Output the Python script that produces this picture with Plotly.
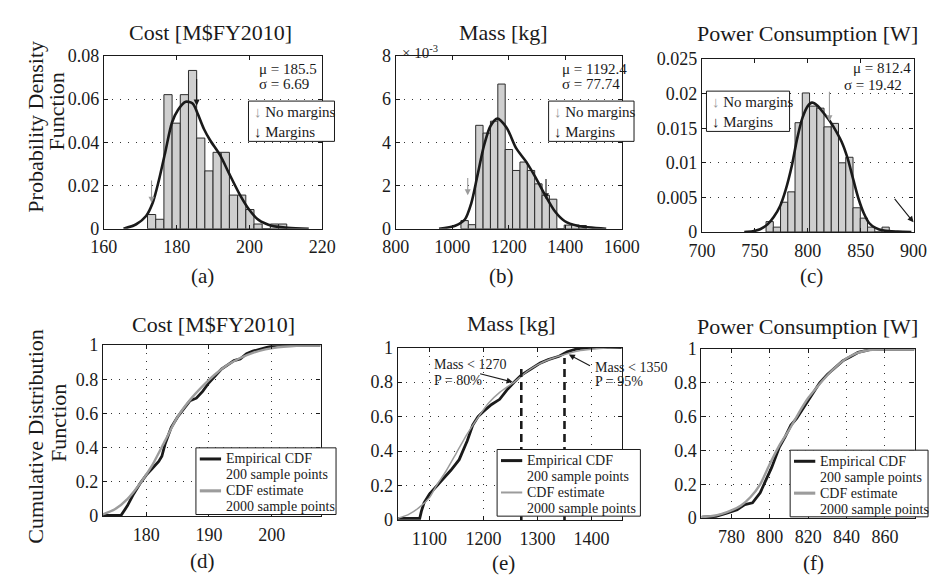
import plotly.graph_objects as go

W, H = 947, 587
SERIF = "Liberation Serif"
INK = "#1a1a1a"
GRAY = "#9c9c9c"
BAR_FILL = "#cfcfcf"

# ---------------- PDF panels: histogram densities (200 samples) ----------------
cost_bin_start = 172.0
cost_bin_width = 2.25
cost_density = [0.0066, 0.0044, 0.0621, 0.0489, 0.0621, 0.0733, 0.0420, 0.0268, 0.0354,
                0.0354, 0.0156, 0.0156, 0.0089, 0.0022, 0.0, 0.0022, 0.0022]

mass_bin_start = 1031.0
mass_bin_width = 26.1
mass_density = [0.00038, 0.00019, 0.00479, 0.00443, 0.00498, 0.00670, 0.00367, 0.00270,
                0.00309, 0.00270, 0.00208, 0.00155, 0.00137, 0.0, 0.00017, 0.00017, 0.00015]

power_bin_start = 760.6
power_bin_width = 6.85
power_density = [0.0015, 0.0007, 0.0043, 0.0058, 0.0158, 0.0201, 0.0182, 0.0179, 0.0152,
                 0.0157, 0.0100, 0.0108, 0.0035, 0.0020, 0.0007, 0.0, 0.0007]

# Kernel density estimates (2000 sample points)
cost_kde_x = [165.4, 168.9, 171.6, 173.4, 175.1, 176.9, 178.7, 180.4, 182.5, 184.4, 185.7,
              187.5, 189.2, 191.9, 194.5, 197.2, 199.9, 202.5, 206.1, 210.5, 216.3]
cost_kde_y = [0.0, 0.0021, 0.0059, 0.0119, 0.0223, 0.0357, 0.0491, 0.0551, 0.0588, 0.0580,
              0.0536, 0.0462, 0.0410, 0.0342, 0.0253, 0.0163, 0.0089, 0.0041, 0.0014, 0.0005, 0.0]

mass_kde_x = [953.6, 1010.6, 1044.8, 1067.5, 1090.2, 1113.0, 1135.6, 1160.0, 1192.6, 1226.8,
              1260.9, 1295.0, 1329.2, 1363.3, 1397.5, 1443.0, 1545.0]
mass_kde_y = [0.0, 0.00014, 0.00043, 0.00118, 0.00252, 0.00387, 0.00476, 0.00510, 0.00468,
              0.00372, 0.00312, 0.00238, 0.00155, 0.00081, 0.00036, 0.00014, 0.0]

power_kde_x = [740, 748, 755, 762, 768, 774, 779, 785, 790, 795, 800, 804, 809, 815, 821,
               827, 833, 838, 843, 848, 853, 858, 864, 872, 885, 898]
power_kde_y = [0.0, 0.0001, 0.0004, 0.0011, 0.0022, 0.0038, 0.0060, 0.0096, 0.0135, 0.0165,
               0.0182, 0.0187, 0.0183, 0.0172, 0.0160, 0.0145, 0.0127, 0.0105, 0.0076, 0.0048,
               0.0027, 0.0013, 0.0006, 0.0002, 0.00005, 0.0]

# Stats printed in each PDF panel
cost_mu, cost_sigma = "185.5", "6.69"
mass_mu, mass_sigma = "1192.4", "77.74"
power_mu, power_sigma = "812.4", "19.42"

# "No margins" (gray) and "Margins" (black) markers: (x, y_tail, y_head)
cost_nomargin = (173.1, 0.023, 0.012)
cost_margin = (185.5, 0.070, 0.057)
mass_nomargin = (1055.0, 0.00242, 0.00155)
mass_margin = (1332.0, 0.00237, 0.00137)
power_nomargin = (820.5, 0.0205, 0.0160)
power_margin_tail = (881.0, 0.0050)
power_margin_head = (900.0, 0.0014)

# ---------------- CDF panels ----------------
cost_cdf_emp_x = [173.1, 176.0, 177.0, 178.0, 179.0, 180.0, 181.0, 182.0, 182.5, 183.0, 183.5,
                  184.0, 185.0, 186.0, 187.0, 188.0, 189.0, 190.0, 191.0, 192.0, 193.0, 194.0,
                  195.0, 196.0, 197.0, 198.0, 200.0, 201.0, 207.8]
cost_cdf_emp_y = [0.005, 0.005, 0.06, 0.13, 0.19, 0.24, 0.28, 0.32, 0.35, 0.42, 0.47, 0.52,
                  0.58, 0.63, 0.675, 0.69, 0.73, 0.78, 0.82, 0.86, 0.885, 0.91, 0.92, 0.95,
                  0.965, 0.975, 0.995, 1.0, 1.0]
cost_cdf_est_x = [173.1, 175, 177, 179, 181, 183, 185, 187, 189, 191, 193, 195, 197, 199, 201,
                  203, 205, 207.8]
cost_cdf_est_y = [0.01, 0.04, 0.10, 0.19, 0.30, 0.44, 0.58, 0.68, 0.76, 0.83, 0.885, 0.925,
                  0.955, 0.975, 0.987, 0.994, 0.998, 1.0]

mass_cdf_emp_x = [1041, 1082, 1085, 1090, 1100, 1120, 1140, 1155, 1170, 1180, 1190, 1200, 1215,
                  1230, 1245, 1257, 1270, 1290, 1305, 1320, 1340, 1355, 1370, 1380, 1400, 1456]
mass_cdf_emp_y = [0.01, 0.01, 0.05, 0.10, 0.15, 0.22, 0.29, 0.35, 0.46, 0.55, 0.60, 0.63,
                  0.67, 0.70, 0.76, 0.80, 0.84, 0.88, 0.91, 0.93, 0.95, 0.975, 0.99, 0.995,
                  1.0, 1.0]
mass_cdf_est_x = [1041, 1060, 1080, 1100, 1113, 1130, 1150, 1170, 1191, 1210, 1230, 1257, 1280,
                  1300, 1325, 1350, 1375, 1400, 1430, 1456]
mass_cdf_est_y = [0.01, 0.03, 0.07, 0.13, 0.20, 0.28, 0.39, 0.50, 0.60, 0.68, 0.74, 0.80, 0.86,
                  0.90, 0.935, 0.96, 0.98, 0.99, 0.997, 1.0]

power_cdf_emp_x = [764.4, 772, 778, 783, 787, 791, 795, 798, 801, 805, 808, 811, 814, 818, 822,
                   826, 830, 834, 838, 842, 846, 850, 853, 875.4]
power_cdf_emp_y = [0.005, 0.01, 0.03, 0.05, 0.08, 0.09, 0.15, 0.22, 0.30, 0.42, 0.48, 0.55,
                   0.59, 0.66, 0.73, 0.80, 0.85, 0.89, 0.93, 0.955, 0.98, 0.99, 1.0, 1.0]
power_cdf_est_x = [764.4, 770, 775, 780, 785, 790, 795, 800, 805, 810, 815, 820, 825, 830, 835,
                   840, 845, 850, 855, 860, 875.4]
power_cdf_est_y = [0.005, 0.012, 0.025, 0.045, 0.075, 0.125, 0.20, 0.32, 0.43, 0.52, 0.62, 0.71,
                   0.78, 0.845, 0.90, 0.945, 0.975, 0.99, 0.997, 1.0, 1.0]

# Mass thresholds marked on the CDF
mass_p80_value, mass_p80_level = 1270, 0.876
mass_p95_value, mass_p95_level = 1350, 0.94

# ---------------- axis definitions ----------------
titles_top = ["Cost [M$FY2010]", "Mass [kg]", "Power Consumption [W]"]
titles_bottom = ["Cost [M$FY2010]", "Mass [kg]", "Power Consumption [W]"]
panel_tags = ["(a)", "(b)", "(c)", "(d)", "(e)", "(f)"]

pdf_x_ticks = [[160, 180, 200, 220], [800, 1000, 1200, 1400, 1600], [700, 750, 800, 850, 900]]
pdf_y_ticks = [[0, 0.02, 0.04, 0.06, 0.08], [0, 0.002, 0.004, 0.006, 0.008],
               [0, 0.005, 0.01, 0.015, 0.02, 0.025]]
pdf_y_text = [["0", "0.02", "0.04", "0.06", "0.08"], ["0", "2", "4", "6", "8"],
              ["0", "0.005", "0.01", "0.015", "0.02", "0.025"]]
cdf_x_ticks = [[180, 190, 200], [1100, 1200, 1300, 1400], [780, 800, 820, 840, 860]]
cdf_y_ticks = [0, 0.2, 0.4, 0.6, 0.8, 1]
cdf_y_text = ["0", "0.2", "0.4", "0.6", "0.8", "1"]

# pixel boxes of the six plot areas: (left, right, top, bottom)
boxes = [(93, 319, 47.6, 226.5), (395, 629, 47.6, 226.5), (712, 931, 50.8, 229.8),
         (92, 317.3, 347, 524), (397, 629, 349.5, 528), (711.5, 932, 351, 526)]
x_ranges = [[160, 220], [800, 1600], [700, 900], [173.1, 207.8], [1041, 1456], [764.4, 875.4]]
y_ranges = [[0, 0.08], [0, 0.008], [0, 0.025], [0, 1], [0, 1], [0, 1]]

fig = go.Figure()
layout = {}
for i, (l, r, t, b) in enumerate(boxes):
    n = "" if i == 0 else str(i + 1)
    top_row = i < 3
    xt = pdf_x_ticks[i] if top_row else cdf_x_ticks[i - 3]
    yt = pdf_y_ticks[i] if top_row else cdf_y_ticks
    ytx = pdf_y_text[i] if top_row else cdf_y_text
    common = dict(showline=True, linecolor=INK, linewidth=1.2, mirror="ticks",
                  ticks="inside", ticklen=4, tickcolor=INK, zeroline=False,
                  tickfont=dict(family=SERIF, size=18, color=INK),
                  gridcolor="#333333", griddash="1px,7px", gridwidth=1)
    layout["xaxis" + n] = dict(common, domain=[l / W, r / W], range=x_ranges[i],
                               anchor="y" + n, tickvals=xt, ticktext=[str(v) for v in xt],
                               showgrid=not top_row, ticklabelstandoff=2)
    layout["yaxis" + n] = dict(common, domain=[1 - b / H, 1 - t / H], range=y_ranges[i],
                               anchor="x" + n, tickvals=yt, ticktext=ytx, showgrid=True)


def xy(i):
    n = "" if i == 0 else str(i + 1)
    return "x" + n, "y" + n


# ---------------- histogram + KDE traces ----------------
hist_sets = [(cost_bin_start, cost_bin_width, cost_density, cost_kde_x, cost_kde_y),
             (mass_bin_start, mass_bin_width, mass_density, mass_kde_x, mass_kde_y),
             (power_bin_start, power_bin_width, power_density, power_kde_x, power_kde_y)]
for i, (start, width, dens, kx, ky) in enumerate(hist_sets):
    xa, ya = xy(i)
    centers = [start + width * (k + 0.5) for k in range(len(dens))]
    fig.add_trace(go.Bar(x=centers, y=dens, width=width, xaxis=xa, yaxis=ya,
                         marker=dict(color=BAR_FILL, line=dict(color="#2b2b2b", width=1)),
                         showlegend=False))
    fig.add_trace(go.Scatter(x=kx, y=ky, mode="lines", xaxis=xa, yaxis=ya,
                             line=dict(color=INK, width=2.6, shape="spline", smoothing=0.8),
                             showlegend=False))

# ---------------- CDF traces ----------------
cdf_sets = [(cost_cdf_emp_x, cost_cdf_emp_y, cost_cdf_est_x, cost_cdf_est_y, 2.4),
            (mass_cdf_emp_x, mass_cdf_emp_y, mass_cdf_est_x, mass_cdf_est_y, 1.5),
            (power_cdf_emp_x, power_cdf_emp_y, power_cdf_est_x, power_cdf_est_y, 2.4)]
for j, (ex, ey, sx, sy, gw) in enumerate(cdf_sets):
    xa, ya = xy(j + 3)
    fig.add_trace(go.Scatter(x=ex, y=ey, mode="lines", xaxis=xa, yaxis=ya,
                             line=dict(color=INK, width=2.8), showlegend=False))
    fig.add_trace(go.Scatter(x=sx, y=sy, mode="lines", xaxis=xa, yaxis=ya,
                             line=dict(color=GRAY, width=gw, shape="spline", smoothing=0.6),
                             showlegend=False))

# threshold lines on the mass CDF
for val, lvl in [(mass_p80_value, mass_p80_level), (mass_p95_value, mass_p95_level)]:
    fig.add_trace(go.Scatter(x=[val, val], y=[0, lvl], mode="lines", xaxis="x5", yaxis="y5",
                             line=dict(color=INK, width=2.6, dash="8px,5px"), showlegend=False))

# ---------------- annotations ----------------
ann = []
shapes = []


def text_px(text, px, py, size, xanchor="center", angle=0):
    ann.append(dict(text=text, x=px / W, y=1 - py / H, xref="paper", yref="paper",
                    showarrow=False, xanchor=xanchor, yanchor="middle", textangle=angle,
                    font=dict(family=SERIF, size=size, color=INK)))


def text_data(text, i, x, y, size, xanchor="left"):
    xa, ya = xy(i)
    ann.append(dict(text=text, x=x, y=y, xref=xa, yref=ya, showarrow=False,
                    xanchor=xanchor, yanchor="middle",
                    font=dict(family=SERIF, size=size, color=INK)))


def arrow(i, tail, head, color):
    xa, ya = xy(i)
    ann.append(dict(text="", x=head[0], y=head[1], ax=tail[0], ay=tail[1], xref=xa, yref=ya,
                    axref=xa, ayref=ya, showarrow=True, arrowhead=2, arrowsize=1.1,
                    arrowwidth=1.1, arrowcolor=color))


def box_px(l, r, t, b):
    shapes.append(dict(type="rect", xref="paper", yref="paper", x0=l / W, x1=r / W,
                       y0=1 - b / H, y1=1 - t / H, fillcolor="white",
                       line=dict(color=INK, width=1), layer="above"))


def line_px(x0, x1, py, color, width):
    shapes.append(dict(type="line", xref="paper", yref="paper", x0=x0 / W, x1=x1 / W,
                       y0=1 - py / H, y1=1 - py / H, line=dict(color=color, width=width),
                       layer="above"))


# titles
for cx, cy, t in [(203, 23, titles_top[0]), (507, 23, titles_top[1]), (821, 24, titles_top[2])]:
    text_px(t, cx, cy, 22)
for cx, cy, t in [(206, 326, titles_bottom[0]), (515, 325, titles_bottom[1]),
                  (821, 327.5, titles_bottom[2])]:
    text_px(t, cx, cy, 22)

# y-axis labels
text_px("Probability Density", 22, 120.5, 22, angle=-90)
text_px("Function", 44, 105.5, 22, angle=-90)
text_px("Cumulative Distribution", 22, 441.5, 22, angle=-90)
text_px("Function", 46, 427, 22, angle=-90)

# panel tags
for (cx, cy), tag in zip([(195, 275), (505, 275), (825, 275), (195, 570), (507, 573),
                          (827, 572)], panel_tags):
    text_px(tag, cx, cy, 21)

# exponent for the mass density axis
text_px("× 10<sup>-3</sup>", 399, 43, 15, xanchor="left")

# mu / sigma
text_px(f"μ = {cost_mu}", 252, 61.5, 15, xanchor="left")
text_px(f"σ = {cost_sigma}", 252, 77, 15, xanchor="left")
text_px(f"μ = {mass_mu}", 565, 61.5, 15, xanchor="left")
text_px(f"σ = {mass_sigma}", 565, 77, 15, xanchor="left")
text_px(f"μ = {power_mu}", 866, 60, 15, xanchor="left")
text_px(f"σ = {power_sigma}", 857, 78, 15, xanchor="left")

# margin markers
for i, (nm, mg) in enumerate([(cost_nomargin, cost_margin), (mass_nomargin, mass_margin)]):
    arrow(i, (nm[0], nm[1]), (nm[0], nm[2]), GRAY)
    arrow(i, (mg[0], mg[1]), (mg[0], mg[2]), INK)
arrow(2, (power_nomargin[0], power_nomargin[1]), (power_nomargin[0], power_nomargin[2]), GRAY)
arrow(2, power_margin_tail, power_margin_head, INK)

# marker legends
down_gray = f"<span style='color:{GRAY}'>↓</span> No margins"
down_black = "↓ Margins"
for l, r, t, b in [(242.7, 331.7, 94.3, 136), (553.3, 641.7, 94.3, 136),
                   (716.7, 802.7, 84, 125.7)]:
    box_px(l, r, t, b)
    text_px(down_gray, l + 4, t + 11, 15, xanchor="left")
    text_px(down_black, l + 4, t + 31.5, 15, xanchor="left")

# CDF legends
for (l, r, t), gw in zip([(188.3, 333.3, 453.3), (500, 648.3, 455), (803.3, 946, 455.7)],
                         [2.6, 1.5, 2.6]):
    box_px(l, r, t, t + 69)
    rows = [t + 11.5, t + 28, t + 44.5, t + 61]
    line_px(l + 4, l + 26, rows[0], INK, 3)
    line_px(l + 4, l + 26, rows[2], GRAY, gw + 0.5)
    for row, s in zip(rows, ["Empirical CDF", "200 sample points", "CDF estimate",
                             "2000 sample points"]):
        text_px(s, l + 29, row, 14, xanchor="left")

# mass thresholds
text_data(f"Mass < {mass_p80_value}", 4, 1104, 0.90, 14)
text_data("P = 80%", 4, 1104, 0.81, 14)
text_data(f"Mass < {mass_p95_value}", 4, 1402, 0.885, 14)
text_data("P = 95%", 4, 1402, 0.805, 14)
arrow(4, (1191, 0.85), (1254, 0.80), INK)
arrow(4, (1400, 0.89), (1358, 0.96), INK)

fig.update_layout(width=W, height=H, margin=dict(l=0, r=0, t=0, b=0),
                  paper_bgcolor="white", plot_bgcolor="white", showlegend=False,
                  annotations=ann, shapes=shapes, **layout)

fig.write_html("out.html")
